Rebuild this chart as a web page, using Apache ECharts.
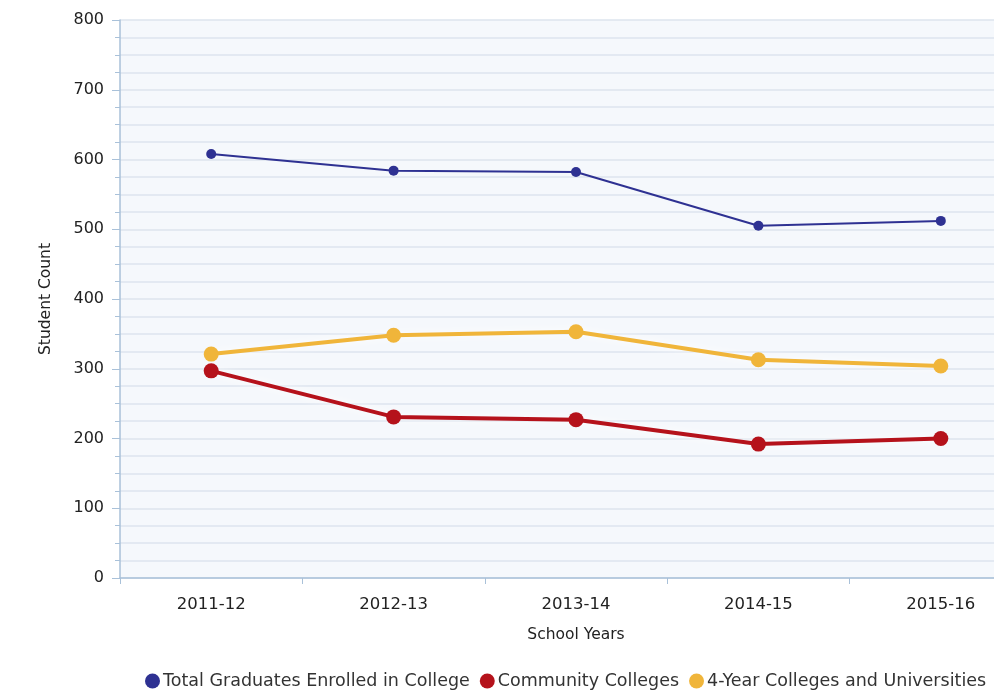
<!DOCTYPE html>
<html>
<head>
<meta charset="utf-8">
<script src="https://cdn.jsdelivr.net/npm/echarts@6/dist/echarts.min.js"></script>
<style>
  html, body { margin: 0; padding: 0; background: #fff; overflow: hidden; }
  #chart { width: 1033px; height: 691px; }
</style>
</head>
<body>
<div id="chart"></div>
<script>
var schoolYears = ['2011-12', '2012-13', '2013-14', '2014-15', '2015-16'];
var totalEnrolled = [608, 584, 582, 505, 512];
var communityColleges = [297, 231, 227, 192, 200];
var fourYearColleges = [321, 348, 353, 313, 304];

var chart = echarts.init(document.getElementById('chart'));

function haloSeries(name, data, color, width, size) {
    return {
        name: name,
        type: 'line',
        data: data,
        symbol: 'circle',
        symbolSize: size,
        itemStyle: { color: color },
        lineStyle: {
            color: color,
            width: width,
            shadowColor: 'rgba(255,255,255,1)',
            shadowBlur: 8
        },
        emphasis: { disabled: true }
    };
}

var option = {
    animation: false,
    textStyle: { fontFamily: 'DejaVu Sans' },
    grid: {
        left: 120,
        top: 20,
        right: 1,
        height: 558,
        show: true,
        backgroundColor: '#f5f8fc',
        borderWidth: 0
    },
    legend: {
        left: 140,
        top: 667,
        itemGap: 10,
        itemWidth: 15,
        itemHeight: 15,
        icon: 'circle',
        textStyle: { fontSize: 17.5, color: '#333', fontFamily: 'DejaVu Sans', padding: [0, 0, 0, -2] },
        data: ['Total Graduates Enrolled in College', 'Community Colleges', '4-Year Colleges and Universities']
    },
    xAxis: {
        type: 'category',
        data: schoolYears,
        boundaryGap: true,
        name: 'School Years',
        nameLocation: 'middle',
        nameGap: 49,
        nameTextStyle: { fontSize: 15.5, color: '#222' },
        axisLine: { lineStyle: { color: '#a9c1d9', width: 1.5 } },
        axisTick: { show: true, length: 6, lineStyle: { color: '#a9c1d9' } },
        axisLabel: { fontSize: 16.5, color: '#222', margin: 18 },
        splitLine: { show: false }
    },
    yAxis: {
        type: 'value',
        min: 0,
        max: 800,
        interval: 100,
        name: 'Student Count',
        nameLocation: 'middle',
        nameGap: 66,
        nameTextStyle: { fontSize: 15.5, color: '#222' },
        axisLine: { show: true, lineStyle: { color: '#a9c1d9', width: 1.5 } },
        axisTick: { show: true, length: 8, lineStyle: { color: '#a9c1d9' } },
        minorTick: { show: true, splitNumber: 4, length: 5, lineStyle: { color: '#a9c1d9' } },
        axisLabel: { fontSize: 16, color: '#222', margin: 16 },
        splitLine: { show: true, lineStyle: { color: '#dde4ee', width: 1.5 } },
        minorSplitLine: { show: true, lineStyle: { color: '#dde4ee', width: 1.5 } }
    },
    series: [
        {
            name: 'Total Graduates Enrolled in College',
            type: 'line',
            data: totalEnrolled,
            symbol: 'circle',
            symbolSize: 10,
            itemStyle: { color: '#2e3192' },
            lineStyle: { color: '#2e3192', width: 2 },
            emphasis: { disabled: true },
            z: 3
        },
        haloSeries('Community Colleges', communityColleges, '#b5121b', 4, 15),
        haloSeries('4-Year Colleges and Universities', fourYearColleges, '#f0b53a', 4, 15)
    ]
};

chart.setOption(option);
</script>
</body>
</html>
